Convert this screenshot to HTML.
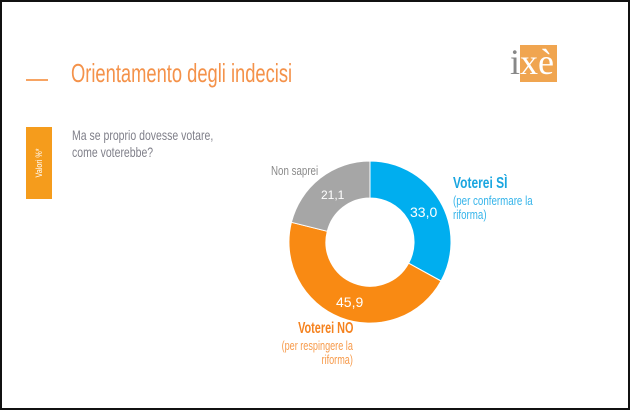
<!DOCTYPE html>
<html><head><meta charset="utf-8"><style>
body{margin:0;width:630px;height:410px;background:#fff;overflow:hidden;}
.f{position:absolute;left:0;top:0;width:626px;height:406px;border:2px solid #111;}
.t{position:absolute;font-family:"Liberation Sans",sans-serif;white-space:nowrap;transform:scaleX(0.75);transform-origin:left top;}
.r{transform-origin:right top;text-align:right;}
</style></head><body>
<div class="f"></div>
<div style="position:absolute;left:26px;top:79px;width:22px;height:2px;background:#f7a463"></div>
<div class="t" style="left:71px;top:58px;font-size:26px;color:#f4924a;transform:scaleX(0.705)">Orientamento degli indecisi</div>
<div style="position:absolute;left:26px;top:127px;width:26px;height:72px;background:#f59c1c"></div>
<div style="position:absolute;left:39px;top:163px;font-family:'Liberation Sans',sans-serif;white-space:nowrap;font-size:9px;color:#fff;transform:translate(-50%,-50%) rotate(-90deg) scaleX(0.8)">Valori %*</div>
<div class="t" style="left:72px;top:127px;font-size:14px;line-height:17px;color:#80808a">Ma se proprio dovesse votare,<br>come voterebbe?</div>
<div style="position:absolute;left:520px;top:45px;width:37px;height:37px;background:#f0a550"></div>
<div style="position:absolute;left:510px;top:42px;font-family:'Liberation Serif',serif;font-size:36px;line-height:40px;color:#fff;white-space:nowrap"><span style="color:#888">i</span>xè</div>
<svg style="position:absolute;left:0;top:0" width="630" height="410">
<path d="M370 161 A81 81 0 0 1 441 281 L408.6 263.2 A44 44 0 0 0 370 198Z" fill="#00aeef" stroke="#fff" stroke-width="1"/>
<path d="M441 281 A81 81 0 0 1 291.4 222.3 L327.3 231.3 A44 44 0 0 0 408.6 263.2Z" fill="#f98a13" stroke="#fff" stroke-width="1"/>
<path d="M291.4 222.3 A81 81 0 0 1 370 161 L370 198 A44 44 0 0 0 327.3 231.3Z" fill="#a6a6a6" stroke="#fff" stroke-width="1"/>
</svg>
<div class="t" style="left:410px;top:204px;font-size:14px;color:#fff;transform:none">33,0</div>
<div class="t" style="left:336px;top:294px;font-size:14px;color:#fff;transform:none">45,9</div>
<div class="t" style="left:321px;top:188px;font-size:12px;color:#fff;transform:none">21,1</div>
<div class="t" style="left:271px;top:163px;font-size:13px;color:#8a8a8a">Non saprei</div>
<div class="t" style="left:453px;top:175px;font-size:16px;font-weight:bold;color:#1aa6e0">Voterei SÌ</div>
<div class="t" style="left:453px;top:194px;font-size:13px;line-height:14px;color:#35b4ea">(per confermare la<br>riforma)</div>
<div class="t r" style="right:277px;top:320px;font-size:16px;font-weight:bold;color:#f5821f;transform:scaleX(0.68)">Voterei NO</div>
<div class="t r" style="right:277px;top:339px;font-size:13px;line-height:14px;color:#f79a4a;transform:scaleX(0.7)">(per respingere la<br>riforma)</div>
</body></html>
